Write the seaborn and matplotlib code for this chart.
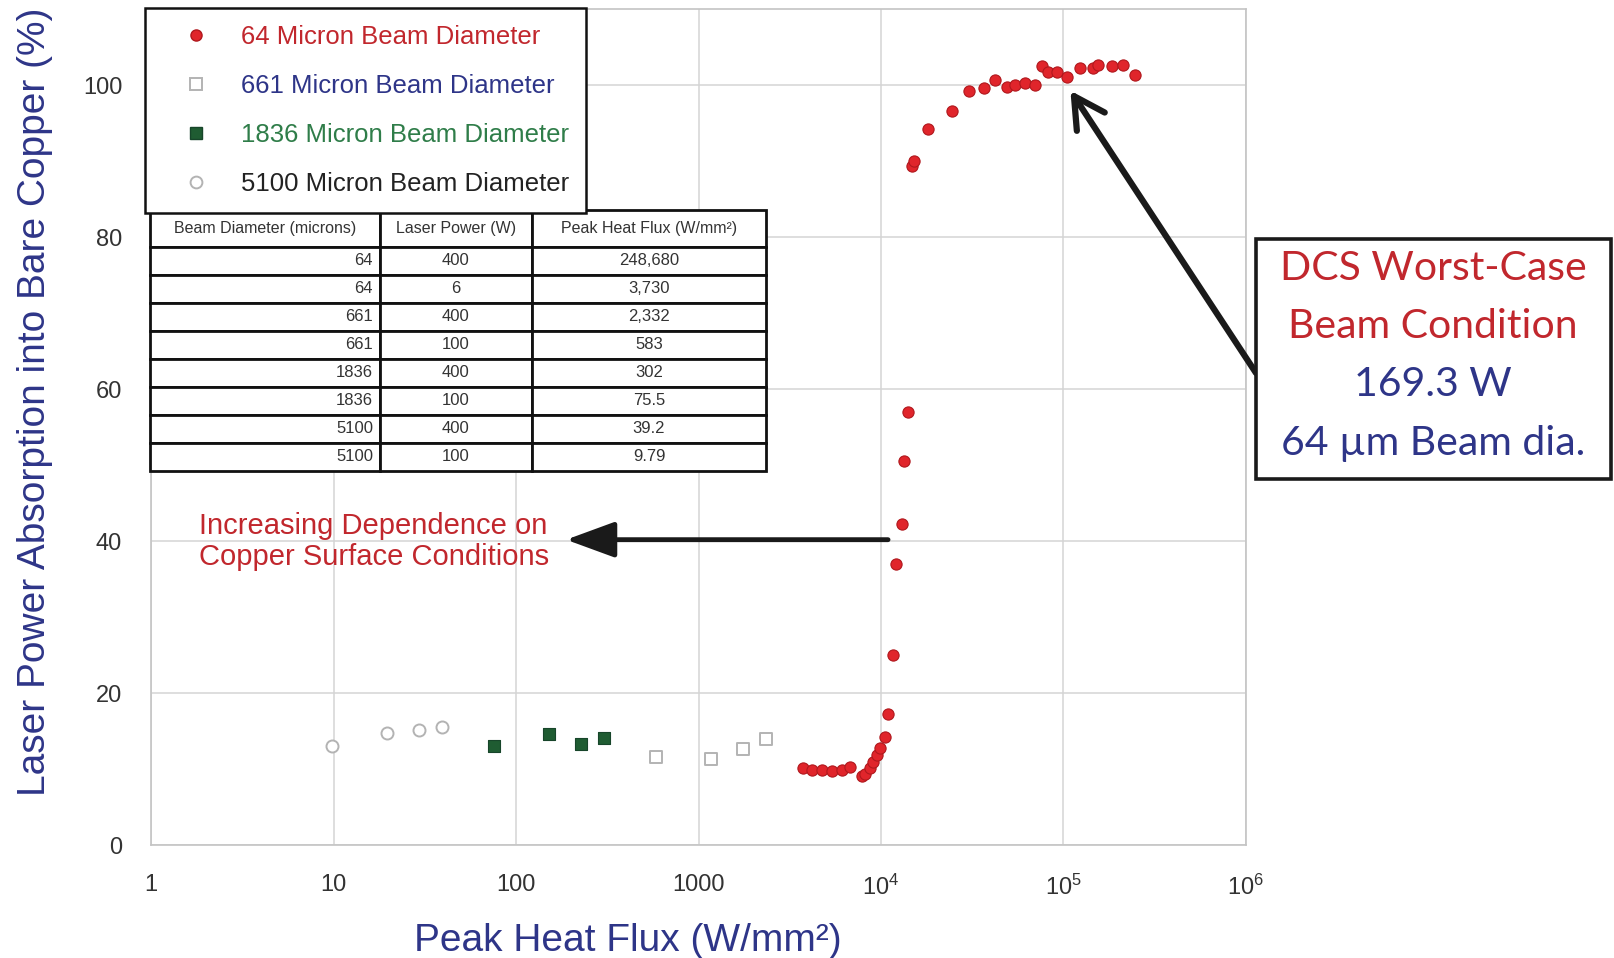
import numpy as np
import pandas as pd
import matplotlib
matplotlib.use("Agg")
import matplotlib.pyplot as plt
import seaborn as sns
from matplotlib.lines import Line2D
from matplotlib.patches import Rectangle
from matplotlib.ticker import FixedLocator, FixedFormatter, NullLocator

# ---------------- data ----------------
flux_64 = [3730, 4180, 4735, 5370, 6095, 6765, 7850, 8180, 8710, 9085, 9480, 9890,
           10520, 10980, 11690, 12140, 13000, 13390, 14130, 14750, 15180, 18200,
           24430, 30400, 36700, 42250, 48950, 54300, 61660, 69900, 76200, 82800,
           92000, 104500, 123600, 146000, 155500, 184100, 213200, 248680]
abs_64 = [10.1, 9.9, 9.9, 9.8, 9.9, 10.3, 9.1, 9.4, 10.2, 11.0, 11.9, 12.8,
          14.2, 17.3, 25.0, 37.0, 42.2, 50.5, 57.0, 89.4, 90.0, 94.3,
          96.6, 99.2, 99.7, 100.7, 99.8, 100.0, 100.3, 100.1, 102.5, 101.8,
          101.8, 101.1, 102.3, 102.3, 102.7, 102.5, 102.7, 101.4]

flux_661 = [583, 1166, 1749, 2332]
abs_661 = [11.6, 11.3, 12.7, 13.9]

flux_1836 = [75.5, 151, 226, 302]
abs_1836 = [13.0, 14.6, 13.3, 14.1]

flux_5100 = [9.79, 19.6, 29.4, 39.2]
abs_5100 = [13.0, 14.7, 15.2, 15.5]

series_labels = ["64 Micron Beam Diameter", "661 Micron Beam Diameter",
                 "1836 Micron Beam Diameter", "5100 Micron Beam Diameter"]

x_ticks = [1, 10, 100, 1000, 1e4, 1e5, 1e6]
x_tick_labels = ["1", "10", "100", "1000", r"$\mathregular{10^{4}}$",
                 r"$\mathregular{10^{5}}$", r"$\mathregular{10^{6}}$"]
y_ticks = [0, 20, 40, 60, 80, 100]

table_header = ["Beam Diameter (microns)", "Laser Power (W)", "Peak Heat Flux (W/mm²)"]
table_diam = ["64", "64", "661", "661", "1836", "1836", "5100", "5100"]
table_power = ["400", "6", "400", "100", "400", "100", "400", "100"]
table_flux = ["248,680", "3,730", "2,332", "583", "302", "75.5", "39.2", "9.79"]

callout_lines = ["DCS Worst-Case", "Beam Condition", "169.3 W", "64 µm Beam dia."]
note_text = "Increasing Dependence on\nCopper Surface Conditions"

# ---------------- style ----------------
sns.set_theme(style="white")
plt.rcParams["font.family"] = ["Liberation Sans", "DejaVu Sans"]
plt.rcParams["mathtext.fontset"] = "custom"
plt.rcParams["mathtext.rm"] = "Liberation Sans"

RED = "#e0252b"
RED_EDGE = "#b0181d"
RED_TXT = "#c1272d"
NAVY = "#2e3588"
GREEN = "#1f5c32"
GREEN_TXT = "#2f7d49"
GRAY_M = "#b3b3b3"

W, H = 1614, 958
fig = plt.figure(figsize=(W / 100, H / 100), dpi=100)
fig.patch.set_facecolor("white")

AX_L, AX_R, AX_B, AX_T = 151.3, 1245.7, 845.1, 9.4
ax = fig.add_axes([AX_L / W, 1 - AX_B / H, (AX_R - AX_L) / W, (AX_B - AX_T) / H])


def ax_frac(px, py):
    return ((px - AX_L) / (AX_R - AX_L), (AX_B - py) / (AX_B - AX_T))


df64 = pd.DataFrame({"flux": flux_64, "absorb": abs_64})
df661 = pd.DataFrame({"flux": flux_661, "absorb": abs_661})
df1836 = pd.DataFrame({"flux": flux_1836, "absorb": abs_1836})
df5100 = pd.DataFrame({"flux": flux_5100, "absorb": abs_5100})

sns.scatterplot(data=df5100, x="flux", y="absorb", ax=ax, marker="o", s=75,
                facecolor="white", edgecolor=GRAY_M, linewidth=1.4, legend=False, zorder=3)
sns.scatterplot(data=df1836, x="flux", y="absorb", ax=ax, marker="s", s=85,
                facecolor=GREEN, edgecolor="#17452a", linewidth=0.8, legend=False, zorder=3)
sns.scatterplot(data=df661, x="flux", y="absorb", ax=ax, marker="s", s=85,
                facecolor="white", edgecolor=GRAY_M, linewidth=1.4, legend=False, zorder=3)
sns.scatterplot(data=df64, x="flux", y="absorb", ax=ax, marker="o", s=65,
                facecolor=RED, edgecolor=RED_EDGE, linewidth=0.8, legend=False, zorder=4)

ax.set_xscale("log")
ax.set_xlim(1, 1e6)
ax.set_ylim(0, 110)
ax.xaxis.set_major_locator(FixedLocator(x_ticks))
ax.xaxis.set_major_formatter(FixedFormatter(x_tick_labels))
ax.xaxis.set_minor_locator(NullLocator())
ax.set_yticks(y_ticks)
ax.grid(True, which="major", color="#d4d4d4", linewidth=1.1)
ax.set_axisbelow(True)
for sp in ax.spines.values():
    sp.set_color("#c4c4c4")
    sp.set_linewidth(1.2)
ax.tick_params(axis="both", length=0, labelsize=17, colors="#333333")
ax.tick_params(axis="x", pad=21)
ax.tick_params(axis="y", pad=21)

ax.set_xlabel("Peak Heat Flux (W/mm²)", fontsize=28, color=NAVY)
ax.set_ylabel("Laser Power Absorption into Bare Copper (%)", fontsize=28, color=NAVY)
ax.xaxis.set_label_coords(0.435, -0.093)
ax.yaxis.set_label_coords(-0.090, 0.53)

# ---------------- legend ----------------
handles = [
    Line2D([], [], ls="", marker="o", markersize=8, markerfacecolor=RED, markeredgecolor=RED_EDGE),
    Line2D([], [], ls="", marker="s", markersize=8.5, markerfacecolor="white",
           markeredgecolor=GRAY_M, markeredgewidth=1.4),
    Line2D([], [], ls="", marker="s", markersize=8.5, markerfacecolor=GREEN, markeredgecolor="#17452a"),
    Line2D([], [], ls="", marker="o", markersize=8.5, markerfacecolor="white",
           markeredgecolor=GRAY_M, markeredgewidth=1.4),
]
leg = ax.legend(handles, series_labels, loc="upper left",
                bbox_to_anchor=(145 / W, 1 - 8 / H), bbox_transform=fig.transFigure,
                borderaxespad=0, fontsize=18.5, frameon=True, fancybox=False,
                framealpha=1, edgecolor="#111111", facecolor="white",
                borderpad=0.65, labelspacing=0.98, handlelength=2.7, handletextpad=0.4)
leg.get_frame().set_linewidth(1.8)
for txt, col in zip(leg.get_texts(), [RED_TXT, NAVY, GREEN_TXT, "#222222"]):
    txt.set_color(col)
leg.set_zorder(10)

# ---------------- table ----------------
cell_text = [[d, p, f] for d, p, f in zip(table_diam, table_power, table_flux)]
x0, y0 = ax_frac(150, 471)
x1, y1 = ax_frac(766, 210)
tbl = ax.table(cellText=cell_text, colLabels=table_header, cellLoc="center",
               colLoc="center", colWidths=[230, 152, 234],
               bbox=[x0, y0, x1 - x0, y1 - y0], zorder=9)
tbl.auto_set_font_size(False)
tbl.set_fontsize(12)
for (r, c), cell in tbl.get_celld().items():
    cell.set_linewidth(2.0)
    cell.set_edgecolor("#111111")
    cell.set_facecolor("white")
    cell.get_text().set_color("#333333")
    if r == 0:
        cell.set_height(cell.get_height() * 1.32)
        cell.get_text().set_fontsize(11.5)
    elif c == 0:
        cell._loc = "right"
        cell.PAD = 0.03
        cell.get_text().set_horizontalalignment("right")

# ---------------- annotations ----------------
ax.text(1.83, 40.0, note_text, fontsize=21, color=RED_TXT, ha="left", va="center",
        linespacing=1.15, zorder=6)
ax.annotate("", xy=(188, 40.2), xytext=(10940, 40.2), xycoords="data", textcoords="data",
            arrowprops=dict(arrowstyle="-|>,head_length=1.5,head_width=0.55", lw=3.5,
                            color="#1a1a1a", mutation_scale=20, shrinkA=0, shrinkB=0),
            zorder=6)

ax.annotate("", xy=(109400, 99.3), xycoords="data",
            xytext=(1256 / W, 1 - 373 / H), textcoords="figure fraction",
            arrowprops=dict(arrowstyle="->,head_length=1.1,head_width=0.6", lw=4.5,
                            color="#1a1a1a", mutation_scale=20, shrinkA=0, shrinkB=0),
            annotation_clip=False, zorder=6)

box = Rectangle((1256 / W, 1 - 479 / H), (1611 - 1256) / W, (479 - 239) / H,
                transform=fig.transFigure, facecolor="white", edgecolor="#1a1a1a",
                linewidth=2.6, zorder=7)
fig.add_artist(box)
for ln, yp, col in zip(callout_lines, [269, 326, 384, 443], [RED_TXT, RED_TXT, NAVY, NAVY]):
    fig.text(1433 / W, 1 - yp / H, ln, fontsize=29.5, color=col, ha="center", va="center",
             family=["Lato", "DejaVu Sans"], zorder=8)

fig.savefig("out.png", dpi=100, facecolor="white")
